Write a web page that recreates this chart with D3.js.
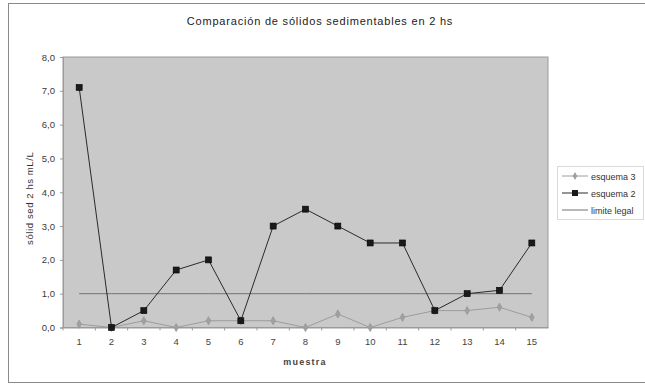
<!DOCTYPE html>
<html>
<head>
<meta charset="utf-8">
<script src="https://cdn.jsdelivr.net/npm/d3@7"></script>
<style>
  html, body { margin: 0; padding: 0; background: #fff; }
  svg { display: block; font-family: "Liberation Sans", Arial, sans-serif; }
</style>
</head>
<body>
<svg id="chart" width="645" height="387"></svg>
<script>
// Muestras 1..15
const muestras = ["1","2","3","4","5","6","7","8","9","10","11","12","13","14","15"];
// Sólidos sedimentables en 2 hs (mL/L)
const esquema3 = [0.1, 0.0, 0.2, 0.0, 0.2, 0.2, 0.2, 0.0, 0.4, 0.0, 0.3, 0.5, 0.5, 0.6, 0.3];
const esquema2 = [7.1, 0.0, 0.5, 1.7, 2.0, 0.2, 3.0, 3.5, 3.0, 2.5, 2.5, 0.5, 1.0, 1.1, 2.5];
const limiteLegal = [1.0, 1.0, 1.0, 1.0, 1.0, 1.0, 1.0, 1.0, 1.0, 1.0, 1.0, 1.0, 1.0, 1.0, 1.0];
const yTicks = [0, 1, 2, 3, 4, 5, 6, 7, 8];

const svg = d3.select("#chart");
const plot = { left: 63, right: 548, top: 57, bottom: 327.5 };

const x = d3.scaleBand().domain(muestras).range([plot.left, plot.right]);
const xc = d => x(d) + x.bandwidth() / 2;
const y = d3.scaleLinear().domain([0, 8]).range([plot.bottom, plot.top]);
const fmt = v => d3.format(".1f")(v).replace(".", ",");

// outer chart frame
svg.append("rect").attr("x", 8.5).attr("y", 3.5).attr("width", 645).attr("height", 379)
  .attr("fill", "none").attr("stroke", "#8a8a8a").attr("stroke-width", 1);

// title
svg.append("text").attr("x", 320).attr("y", 25).attr("text-anchor", "middle")
  .attr("font-size", 11).attr("letter-spacing", 0.8).attr("fill", "#222")
  .text("Comparación de sólidos sedimentables en 2 hs");

// plot area background
svg.append("rect").attr("x", plot.left).attr("y", plot.top)
  .attr("width", plot.right - plot.left).attr("height", plot.bottom - plot.top)
  .attr("fill", "#c9c9c9").attr("stroke", "#9a9a9a").attr("stroke-width", 1);

// y axis
const yAxis = svg.append("g").attr("transform", `translate(${plot.left},0)`)
  .call(d3.axisLeft(y).tickValues(yTicks).tickFormat(fmt).tickSize(3).tickPadding(5));
yAxis.select(".domain").attr("stroke", "#9a9a9a");
yAxis.selectAll(".tick line").attr("stroke", "#9a9a9a");
yAxis.selectAll("text").attr("font-size", 9.5).attr("fill", "#3a3a3a")
  .attr("font-family", "Liberation Sans, Arial, sans-serif");

// x axis (ticks between categories)
const xAxis = svg.append("g").attr("transform", `translate(0,${plot.bottom})`)
  .call(d3.axisBottom(x).tickSize(0).tickPadding(11));
xAxis.select(".domain").attr("stroke", "#9a9a9a");
xAxis.selectAll("text").attr("font-size", 9.5).attr("fill", "#444")
  .attr("font-family", "Liberation Sans, Arial, sans-serif");
xAxis.selectAll(".sep").data(muestras).enter().append("line")
  .attr("x1", d => x(d)).attr("x2", d => x(d)).attr("y1", 0).attr("y2", 3)
  .attr("stroke", "#9a9a9a");

// axis titles
svg.append("text").attr("transform", `translate(33,${(plot.top + plot.bottom) / 2 + 6}) rotate(-90)`)
  .attr("text-anchor", "middle").attr("font-size", 9.5).attr("letter-spacing", 0.6).attr("fill", "#333")
  .text("sólid sed 2 hs  mL/L");
svg.append("text").attr("x", 305).attr("y", 365).attr("text-anchor", "middle")
  .attr("font-size", 9).attr("font-weight", "bold").attr("letter-spacing", 1.2).attr("fill", "#444")
  .text("muestra");

const line = d3.line().x((d, i) => xc(muestras[i])).y(d => y(d));

// límite legal
svg.append("path").datum(limiteLegal).attr("d", line)
  .attr("fill", "none").attr("stroke", "#707070").attr("stroke-width", 1);

// esquema 3
svg.append("path").datum(esquema3).attr("d", line)
  .attr("fill", "none").attr("stroke", "#9c9c9c").attr("stroke-width", 1);
svg.append("g").selectAll("path").data(esquema3).enter().append("path")
  .attr("d", d3.symbol().type(d3.symbolDiamond).size(20))
  .attr("transform", (d, i) => `translate(${xc(muestras[i])},${y(d)})`)
  .attr("fill", "#a0a0a0").attr("stroke", "#909090").attr("stroke-width", 0.5);

// esquema 2
svg.append("path").datum(esquema2).attr("d", line)
  .attr("fill", "none").attr("stroke", "#2a2a2a").attr("stroke-width", 1);
svg.append("g").selectAll("rect").data(esquema2).enter().append("rect")
  .attr("x", (d, i) => xc(muestras[i]) - 3).attr("y", d => y(d) - 3)
  .attr("width", 6).attr("height", 6)
  .attr("fill", "#1a1a1a").attr("stroke", "#000").attr("stroke-width", 0.6);

// legend
const lg = svg.append("g").attr("transform", "translate(557,166)");
lg.append("rect").attr("x", 0.5).attr("y", 0.5).attr("width", 86).attr("height", 53)
  .attr("fill", "#fff").attr("stroke", "#b5b5b5").attr("stroke-dasharray", "1,1");
const items = [
  { name: "esquema 3", stroke: "#9c9c9c", marker: "diamond" },
  { name: "esquema 2", stroke: "#2a2a2a", marker: "square" },
  { name: "limite legal", stroke: "#707070", marker: null }
];
items.forEach((it, i) => {
  const cy = 10 + i * 17;
  lg.append("line").attr("x1", 5).attr("x2", 31).attr("y1", cy).attr("y2", cy)
    .attr("stroke", it.stroke).attr("stroke-width", 1);
  if (it.marker === "diamond") {
    lg.append("path").attr("d", d3.symbol().type(d3.symbolDiamond).size(18))
      .attr("transform", `translate(18,${cy})`).attr("fill", "#a0a0a0");
  } else if (it.marker === "square") {
    lg.append("rect").attr("x", 15).attr("y", cy - 3).attr("width", 6).attr("height", 6)
      .attr("fill", "#1a1a1a");
  }
  lg.append("text").attr("x", 34).attr("y", cy + 3.5).attr("font-size", 9)
    .attr("fill", "#333").text(it.name);
});
</script>
</body>
</html>
